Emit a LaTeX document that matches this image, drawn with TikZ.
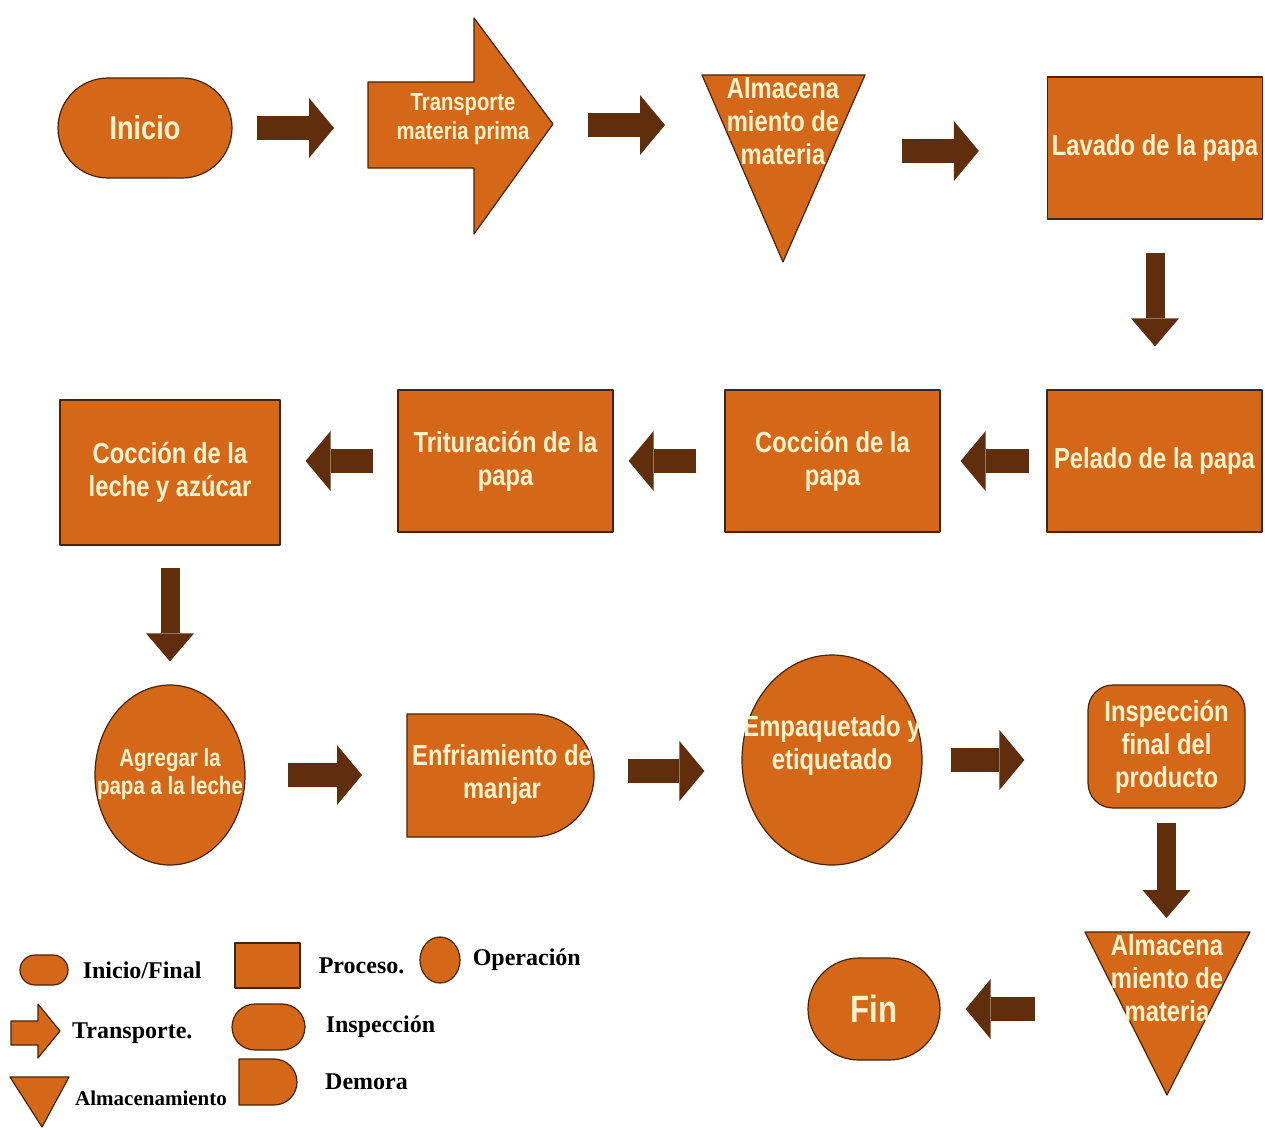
\documentclass[tikz,border=0pt]{standalone}
\usepackage{fontspec}
\usetikzlibrary{shapes.geometric,shapes.misc,arrows.meta,positioning}
\newfontfamily\cajafont[FakeStretch=0.82]{Liberation Sans}
\newfontfamily\leyfont{Liberation Serif}
\definecolor{naranja}{RGB}{212,104,24}
\definecolor{borde}{RGB}{70,35,10}
\definecolor{cafe}{RGB}{96,46,12}
\definecolor{crema}{RGB}{255,242,204}

\begin{document}
\begin{tikzpicture}[x=1pt, y=-1pt,
    caja/.style={draw=borde, fill=naranja, line width=1.2pt, line join=round},
    txt/.style={text=crema, align=center, inner sep=0pt, font=\cajafont\bfseries\fontsize{29}{33}\selectfont},
    proceso/.style={caja, txt, rectangle, minimum width=215pt, minimum height=142pt},
    terminal/.style={caja, txt, rounded rectangle},
    operacion/.style={caja, ellipse, inner sep=0pt},
    fh/.style={cafe, line width=24pt, -{Triangle[length=25pt, width=60pt, line width=0pt]}},
    fv/.style={cafe, line width=19pt, -{Triangle[length=28pt, width=48pt, line width=0pt]}},
    ley/.style={inner sep=0pt, font=\leyfont\bfseries\fontsize{24}{28}\selectfont}]
  \path[fill=white] (0,0) rectangle (1265,1129);

  % fila 1
  \node[terminal, minimum width=174pt, minimum height=100pt, font=\cajafont\bfseries\fontsize{33}{38}\selectfont] (inicio) at (145,128) {Inicio};
  \draw[caja] (368,82) -- (474,82) -- (474,18) -- (553,124) -- (474,234) -- (474,168) -- (368,168) -- cycle;
  \coordinate (trans-w) at (368,125);
  \coordinate (trans-e) at (553,125);
  \node[txt, font=\cajafont\bfseries\fontsize{24.7}{29}\selectfont] (trans) at (463,119) {Transporte\\materia prima};
  \draw[caja] (702,75) -- (865,75) -- (783,262) -- cycle;
  \coordinate (alm1-w) at (700,125);
  \coordinate (alm1-e) at (832,151);
  \node[txt] (alm1) at (783,121) {Almacena\\miento de\\materia};
  \node[proceso] (lavado) at (1155,148) {Lavado de la papa};

  % fila 2
  \node[proceso] (pelado) at (1154.5,461) {Pelado de la papa};
  \node[proceso] (cocpapa) at (832.5,461) {Cocción de la\\papa};
  \node[proceso] (trit) at (505.5,461) {Trituración de la\\papa};
  \node[proceso, minimum width=220pt, minimum height=145pt] (cocleche) at (170,472.5) {Cocción de la\\leche y azúcar};

  % fila 3
  \node[operacion, minimum width=150pt, minimum height=180pt] (agregar) at (170,775) {};
  \node[txt, font=\cajafont\bfseries\fontsize{25}{28}\selectfont] (agregar-t) at (170,774) {Agregar la\\papa a la leche};
  \draw[caja] (407,714) -- (532.5,714) arc (-90:90:61.5) -- (407,837) -- cycle;
  \coordinate (enfr-w) at (407,773);
  \coordinate (enfr-e) at (594,771);
  \node[txt] (enfr) at (502,774) {Enfriamiento de\\manjar};
  \node[operacion, minimum width=180pt, minimum height=210pt] (empaq) at (832,760) {};
  \node[txt] (empaq-t) at (832,745) {Empaquetado y\\etiquetado};
  \node[caja, txt, rectangle, rounded corners=25pt, minimum width=157pt, minimum height=123pt] (insp) at (1166.5,746.5) {Inspección\\final del\\producto};
  \draw[caja] (1085,932) -- (1250,932) -- (1167,1095) -- cycle;
  \coordinate (alm2-n) at (1166.5,932);
  \coordinate (alm2-w) at (1124,1009);
  \node[txt] (alm2) at (1167,978.5) {Almacena\\miento de\\materia};
  \node[terminal, minimum width=132pt, minimum height=102pt, font=\cajafont\bfseries\fontsize{38}{42}\selectfont] (fin) at (874,1009) {Fin};

  % flechas
  \draw[fh, shorten <=24pt, shorten >=34pt] (inicio.east) -- (inicio.east -| trans-w);
  \draw[fh, shorten <=35pt, shorten >=35pt] (trans-e) -- (alm1-w);
  \draw[fh, shorten <=70pt, shorten >=68pt] (alm1-e) -- (alm1-e -| lavado.west);
  \draw[fv, shorten <=33pt, shorten >=43pt] (lavado.south) -- (lavado.south |- pelado.north);
  \draw[fh, shorten <=17pt, shorten >=20pt] (pelado.west) -- (cocpapa.east);
  \draw[fh, shorten <=28pt, shorten >=15pt] (cocpapa.west) -- (trit.east);
  \draw[fh, shorten <=24pt, shorten >=25pt] (trit.west) -- (trit.west -| cocleche.east);
  \draw[fv, shorten <=22pt, shorten >=23pt] (cocleche.south) -- (agregar.north);
  \draw[fh, shorten <=42pt, shorten >=45pt] (agregar.east) -- (agregar.east -| enfr-w);
  \draw[fh, shorten <=34pt, shorten >=37pt] (enfr-e) -- (enfr-e -| empaq.west);
  \draw[fh, shorten <=28pt, shorten >=63pt] (empaq.east) -- (empaq.east -| insp.west);
  \draw[fv, shorten <=14pt, shorten >=14pt] (insp.south) -- (alm2-n);
  \draw[fh, shorten <=89pt, shorten >=25pt] (alm2-w) -- (alm2-w -| fin.east);

  % leyenda
  \node[caja, rounded rectangle, minimum width=48pt, minimum height=30pt, inner sep=0pt] (kterm) at (44,970) {};
  \node[ley, right=14pt of kterm] (kterm-l) {Inicio/Final};
  \node[caja, rectangle, minimum width=65pt, minimum height=45pt, inner sep=0pt] (kproc) at (267.5,965.5) {};
  \node[ley, right=18pt of kproc] (kproc-l) {Proceso.};
  \node[caja, ellipse, minimum width=40pt, minimum height=46pt, inner sep=0pt] (kop) at (440,960) {};
  \node[ley, right=12pt of kop] (kop-l) {Operación};
  \draw[caja] (11,1021) -- (38,1021) -- (38,1004) -- (60,1031) -- (38,1058) -- (38,1045) -- (11,1045) -- cycle;
  \node[ley, anchor=west] (ktrans-l) at (72,1033) {Transporte.};
  \node[caja, rounded rectangle, minimum width=73pt, minimum height=46pt, inner sep=0pt] (kinsp) at (268.5,1027) {};
  \node[ley, right=20pt of kinsp] (kinsp-l) {Inspección};
  \draw[caja] (10,1077) -- (69,1077) -- (42,1127) -- cycle;
  \node[ley, anchor=west, font=\leyfont\bfseries\fontsize{21}{24}\selectfont] (kalm-l) at (75,1098) {Almacenamiento};
  \draw[caja] (239,1059) -- (274,1059) arc (-90:90:23) -- (239,1105) -- cycle;
  \node[ley, anchor=west] (kdem-l) at (325,1082) {Demora};
\end{tikzpicture}
\end{document}
